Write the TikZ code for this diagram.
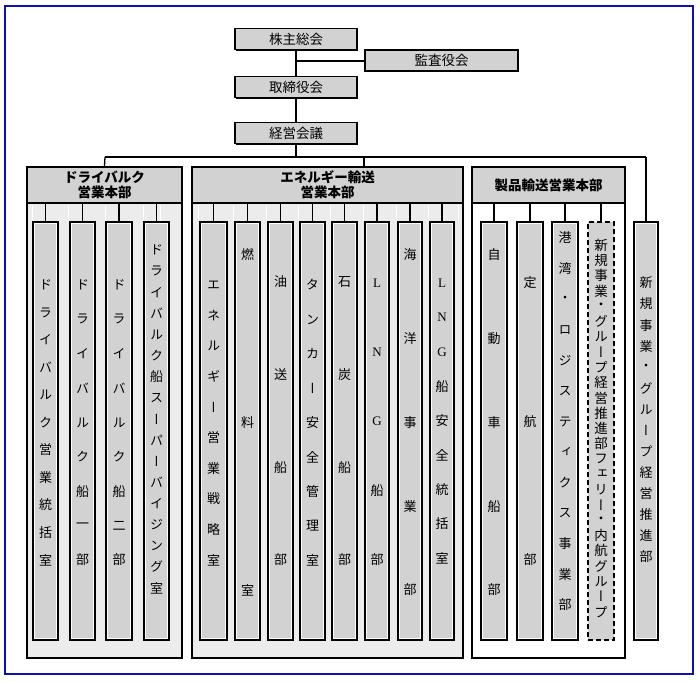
\documentclass[tikz,border=0pt]{standalone}
\usepackage{fontspec}
\setmainfont{Liberation Serif}
\newfontfamily\jp{Noto Sans CJK JP}
\newfontfamily\jpv[RawFeature=+vert]{Noto Sans CJK JP}
\usetikzlibrary{shadows}
\definecolor{boxgray}{HTML}{D2D2D2}
\definecolor{areagray}{HTML}{ECECEC}
\definecolor{frameblue}{HTML}{1010B0}
\tikzset{
  topbox/.style={rectangle, fill=boxgray, draw=black, line width=1.7pt, inner sep=0pt,
    font=\jp\fontsize{13.5}{13.5}\selectfont,
    drop shadow={shadow xshift=1.2pt, shadow yshift=-1.2pt, fill=black, opacity=1}},
  grparea/.style={rectangle, draw=black, line width=2.4pt, inner sep=0pt,
    drop shadow={shadow xshift=1.2pt, shadow yshift=-1.2pt, fill=gray, opacity=0.8}},
  grphead/.style={rectangle, fill=boxgray, draw=black, line width=2pt, inner sep=0pt,
    align=center, font=\jp\bfseries\fontsize{13.5}{15}\selectfont},
  colbox/.style={rectangle, fill=boxgray, draw=black, line width=2.4pt, inner sep=0pt,
    minimum height=418,
    path picture={\draw[white,line width=4.2pt] (path picture bounding box.south west)
      rectangle (path picture bounding box.north east);}},
  dcolbox/.style={rectangle, fill=boxgray, draw=black, line width=1.7pt, inner sep=0pt,
    minimum height=418, dash pattern=on 5pt off 3pt},
  ch/.style={inner sep=0pt, font=\jpv\fontsize{13}{13}\selectfont},
  chb/.style={inner sep=0pt, font=\jpv\fontsize{13.5}{13.5}\selectfont},
  conn/.style={draw=black, line width=1.3pt},
  strip/.style={draw=white, line width=1pt}
}
% #1 name, #2 x, #3 first y, #4 last y, #5 number of chars, #6 list, #7 style
\newcommand\vcol[7]{%
  \foreach \c [count=\i from 0] in {#6}{%
    \node[#7] (#1-\i) at ({#2},{#3+(#4-#3)*\i/(#5-1)}) {\c};}}
\begin{document}
\begin{tikzpicture}[x=1pt,y=-1pt]
\useasboundingbox (0,0) rectangle (700,681);
\draw[frameblue, line width=1.6pt] (5,6) rectangle (693,674);

% top boxes
\node[topbox, minimum width=122, minimum height=21] (kabu) at (296,39) {株主総会};
\node[topbox, minimum width=153, minimum height=21] (kansa) at (441.5,60.5) {監査役会};
\node[topbox, minimum width=122, minimum height=21] (tori) at (296,87) {取締役会};
\node[topbox, minimum width=122, minimum height=21] (keiei) at (296,133) {経営会議};
\coordinate (kj) at (296,61);
\coordinate (busc) at (296,157);
\coordinate (busl) at (105,157);
\coordinate (busm) at (364,157);
\coordinate (busr) at (646,157);
\coordinate (entop) at (364,167);

% groups
\node[grparea, fill=areagray, minimum width=155, minimum height=491] (dry) at (104.5,412.5) {};
\node[grparea, fill=areagray, minimum width=271, minimum height=491] (ene) at (327.5,412.5) {};
\node[grparea, fill=white, minimum width=153, minimum height=491] (pro) at (548.5,412.5) {};
\node[grphead, minimum width=155, minimum height=36] (dryh) at (104.5,185) {ドライバルク\\営業本部};
\node[grphead, minimum width=271, minimum height=36] (eneh) at (327.5,185) {エネルギー輸送\\営業本部};
\node[grphead, minimum width=153, minimum height=36] (proh) at (548.5,185) {製品輸送営業本部};

% connectors top
\draw[conn] (kabu.south) -- (tori.north);
\draw[conn] (kj) -- (kj -| kansa.west);
\draw[conn] (tori.south) -- (keiei.north);
\draw[conn] (keiei.south) -- (busc);
\draw[conn] (busl) -- (busr);
\draw[conn] (busl) -- (dry.north);
\draw[conn] (busm) -- (entop);

% light strips
\foreach \xx in {32,68,105,143,160,198,233,266,298,330,363,396,428,458}
  \draw[strip] (\xx,204.5) -- (\xx,221);

% drybulk children
\node[colbox, minimum width=25] (d1) at (45.5,431) {};
\node[colbox, minimum width=25] (d2) at (82.5,431) {};
\node[colbox, minimum width=26] (d3) at (119,431) {};
\node[colbox, minimum width=25] (d4) at (156.5,431) {};
% energy children
\node[colbox, minimum width=27] (e1) at (213.5,431) {};
\node[colbox, minimum width=25] (e2) at (247.5,431) {};
\node[colbox, minimum width=25] (e3) at (280.5,431) {};
\node[colbox, minimum width=25] (e4) at (312.5,431) {};
\node[colbox, minimum width=25] (e5) at (344.5,431) {};
\node[colbox, minimum width=24] (e6) at (377,431) {};
\node[colbox, minimum width=24] (e7) at (410,431) {};
\node[colbox, minimum width=24] (e8) at (442,431) {};
% product children
\node[colbox, minimum width=26] (p1) at (494,431) {};
\node[colbox, minimum width=26] (p2) at (530,431) {};
\node[colbox, minimum width=26] (p3) at (565,431) {};
\node[dcolbox, minimum width=26] (p4) at (601,431) {};
% standalone
\node[colbox, minimum width=24] (s1) at (646,431) {};

\draw[conn] (busr) -- (s1.north);
\foreach \n in {d1,d2,d3,d4} \draw[conn] (\n.north |- dryh.south) -- (\n.north);
\foreach \n in {e1,e2,e3,e4,e5,e6,e7,e8} \draw[conn] (\n.north |- eneh.south) -- (\n.north);
\foreach \n in {p1,p2,p3,p4} \draw[conn] (\n.north |- proh.south) -- (\n.north);

% vertical texts
\vcol{t1}{45.5}{285}{560}{11}{ド,ラ,イ,バ,ル,ク,営,業,統,括,室}{ch}
\vcol{t2}{82.5}{285}{560}{9}{ド,ラ,イ,バ,ル,ク,船,一,部}{ch}
\vcol{t3}{119}{285}{560}{9}{ド,ラ,イ,バ,ル,ク,船,二,部}{ch}
\vcol{t4}{156.5}{250}{588}{17}{ド,ラ,イ,バ,ル,ク,船,ス,ー,パ,ー,バ,イ,ジ,ン,グ,室}{ch}
\vcol{t5}{213.5}{285}{560}{10}{エ,ネ,ル,ギ,ー,営,業,戦,略,室}{ch}
\vcol{t6}{247.5}{255}{590}{3}{燃,料,室}{ch}
\vcol{t7}{280.5}{282}{560}{4}{油,送,船,部}{ch}
\vcol{t8}{312.5}{285}{560}{9}{タ,ン,カ,ー,安,全,管,理,室}{ch}
\vcol{t9}{344.5}{282}{560}{4}{石,炭,船,部}{ch}
\vcol{t10}{377}{283}{560}{5}{\textrm{L},\textrm{N},\textrm{G},船,部}{ch}
\vcol{t11}{410}{255}{590}{5}{海,洋,事,業,部}{ch}
\vcol{t12}{442}{283}{558}{9}{\textrm{L},\textrm{N},\textrm{G},船,安,全,統,括,室}{ch}
\vcol{t13}{494}{255}{590}{5}{自,動,車,船,部}{ch}
\vcol{t14}{530}{283}{560}{3}{定,航,部}{ch}
\vcol{t15}{565}{238}{605}{13}{港,湾,・,ロ,ジ,ス,テ,ィ,ク,ス,事,業,部}{ch}
\vcol{t16}{601}{245}{612}{25}{新,規,事,業,・,グ,ル,ー,プ,経,営,推,進,部,フ,ェ,リ,ー,・,内,航,グ,ル,ー,プ}{chb}
\vcol{t17}{646}{283}{557}{14}{新,規,事,業,・,グ,ル,ー,プ,経,営,推,進,部}{ch}
\end{tikzpicture}
\end{document}
